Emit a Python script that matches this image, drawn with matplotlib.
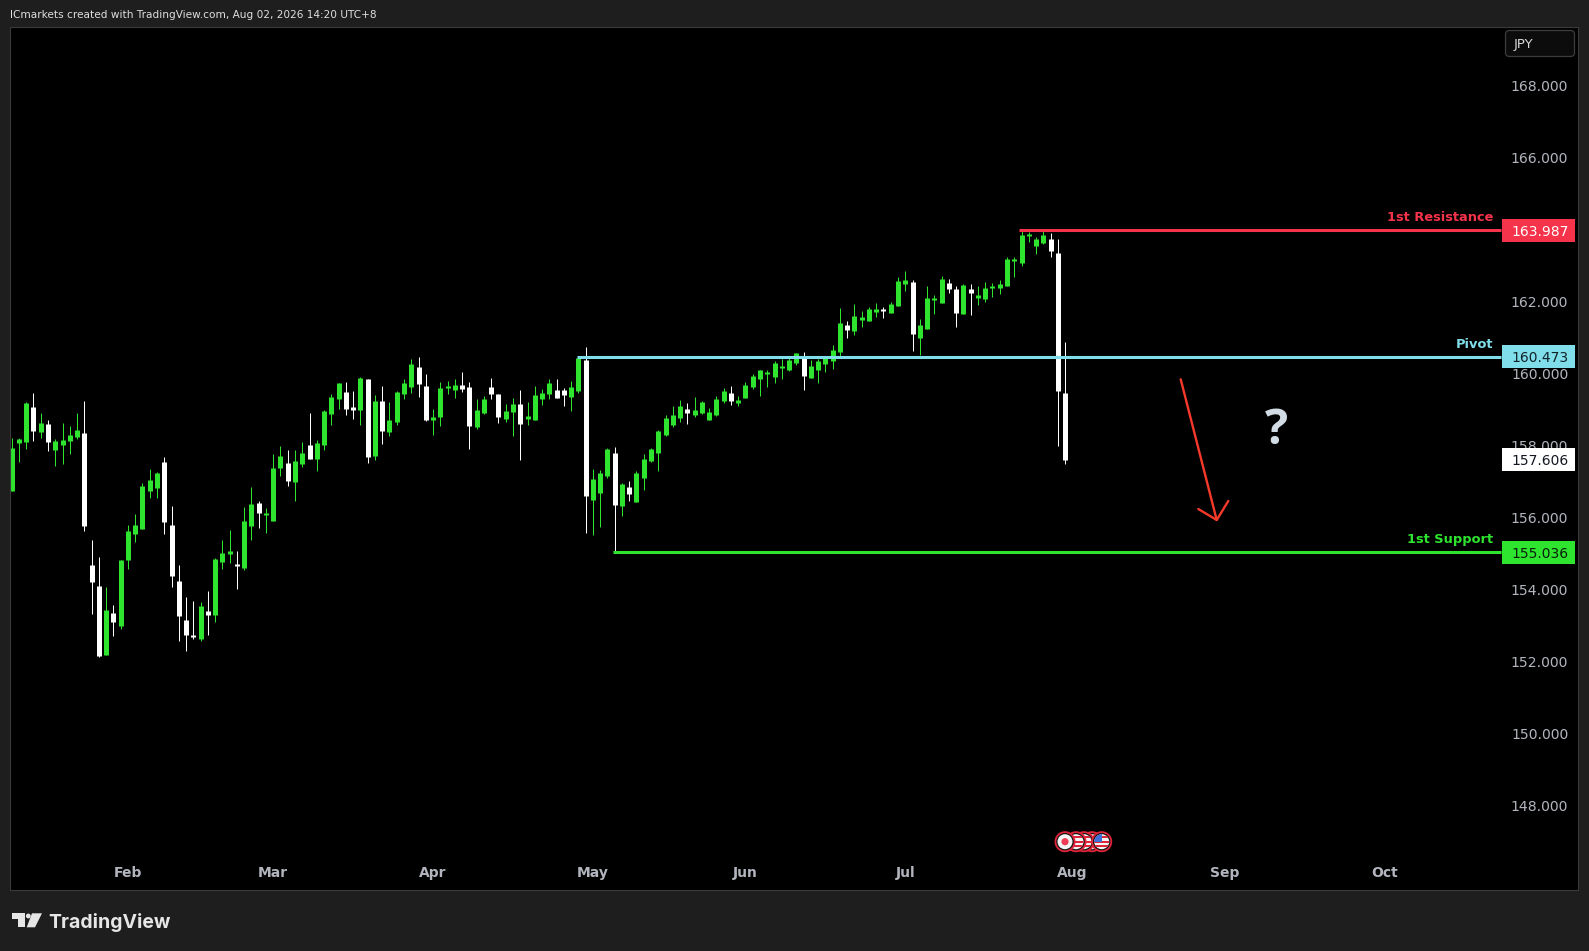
import numpy as np
import matplotlib
matplotlib.use("Agg")
import matplotlib.pyplot as plt
from matplotlib.patches import Circle, Polygon, Rectangle, FancyBboxPatch

# Daily candles
opens = [156.74,158.08,158.10,159.08,158.38,158.60,157.88,158.02,158.13,158.24,
         158.35,154.68,154.10,152.18,153.35,152.99,154.82,155.54,155.68,156.74,
         156.82,157.55,155.80,154.24,153.15,152.74,152.62,153.40,153.29,154.77,
         154.99,154.71,154.60,155.77,156.41,156.07,155.91,157.38,157.52,156.99,
         157.49,158.02,157.63,158.02,158.88,159.30,159.49,159.08,158.99,159.86,
         157.71,159.24,158.38,158.66,159.44,159.63,160.19,159.66,158.72,158.80,
         159.61,159.55,159.69,159.63,158.52,158.91,159.63,159.44,158.74,158.94,
         159.16,158.74,158.72,159.30,159.44,159.55,159.55,159.35,159.52,160.38,
         156.49,156.69,157.16,157.80,156.32,156.85,156.43,157.10,157.57,157.80,
         158.30,158.58,158.77,159.02,158.85,158.91,158.72,158.85,159.24,159.47,
         159.19,159.33,159.63,159.86,159.99,159.91,160.16,160.11,160.30,160.50,
         159.88,160.11,160.27,160.36,160.60,161.35,161.18,161.49,161.46,161.71,
         161.77,161.69,161.88,162.49,162.55,160.99,161.24,162.05,161.96,162.52,
         162.35,161.66,162.35,162.10,162.07,162.38,162.38,162.44,163.13,163.08,
         163.83,163.55,163.63,163.74,163.35,159.46]
highs = [158.21,158.21,159.22,159.47,158.91,158.72,158.19,158.63,158.55,158.91,
         159.24,155.38,154.91,154.07,153.57,154.82,155.80,156.10,156.96,157.35,
         157.27,157.69,156.32,154.68,153.79,153.68,153.65,153.96,154.88,155.38,
         155.66,155.07,156.30,156.85,156.46,156.27,157.77,157.99,157.88,157.88,
         158.10,158.91,158.16,158.99,159.44,159.74,159.77,159.52,159.91,159.86,
         159.41,159.66,159.22,159.52,159.86,160.41,160.47,159.99,159.02,159.77,
         159.80,159.86,160.05,159.77,159.30,159.38,159.88,159.44,159.16,159.33,
         159.55,159.22,159.66,159.58,159.86,159.86,159.61,159.80,160.50,160.75,
         157.35,157.32,157.94,157.96,156.96,157.02,157.30,157.77,157.94,158.44,
         158.85,159.10,159.27,159.19,159.35,159.24,159.05,159.38,159.61,159.66,
         159.38,159.77,159.99,160.11,160.11,160.36,160.41,160.47,160.58,160.61,
         160.38,160.41,160.50,160.80,161.83,161.46,161.94,161.74,161.85,161.96,
         161.85,161.99,162.69,162.85,162.60,161.52,162.44,162.19,162.71,162.63,
         162.44,162.49,162.49,162.44,162.55,162.52,162.60,163.24,163.24,163.99,
         163.94,163.80,163.97,163.91,163.74,160.88]
lows = [156.74,157.55,157.91,158.13,158.21,157.85,157.44,157.49,157.77,158.19,
        155.63,153.32,152.12,152.18,152.71,152.90,154.57,155.32,155.68,156.55,
        156.55,155.54,154.07,152.57,152.29,152.62,152.57,152.74,153.10,154.57,
        154.74,154.02,154.54,155.38,155.71,155.57,155.91,157.16,156.88,156.46,
        157.41,157.63,157.30,157.88,158.58,159.02,158.85,158.74,158.58,157.52,
        157.60,158.05,158.27,158.58,159.30,159.47,159.35,158.69,158.30,158.55,
        159.44,159.33,159.49,157.91,158.46,158.88,159.30,158.63,158.66,158.27,
        157.60,158.58,158.72,159.13,159.30,159.33,159.10,158.97,159.47,155.57,
        155.52,155.74,157.10,155.04,156.05,156.46,156.43,156.77,157.55,157.30,
        158.27,158.52,158.66,158.60,158.80,158.88,158.72,158.83,159.19,159.13,
        159.10,159.33,159.58,159.38,159.63,159.74,159.86,160.08,160.24,159.55,
        159.88,159.74,160.05,160.13,160.49,160.99,161.07,161.30,161.46,161.57,
        161.55,161.69,161.88,162.30,160.63,160.52,161.24,161.66,161.96,162.24,
        161.30,161.66,161.63,161.91,161.99,162.13,162.21,162.44,162.69,162.99,
        163.66,163.33,163.60,163.24,157.99,157.49]
closes = [157.94,158.19,159.19,158.41,158.63,158.10,158.13,158.16,158.30,158.44,
          155.77,154.21,152.15,153.43,153.10,154.82,155.63,155.80,156.88,157.05,
          157.24,155.88,154.38,153.26,152.74,152.68,153.54,153.29,154.85,155.02,
          155.07,154.65,155.91,156.38,156.13,156.10,157.38,157.71,157.02,157.57,
          157.80,157.63,158.08,158.97,159.35,159.74,159.02,158.99,159.88,157.69,
          159.24,158.41,158.72,159.49,159.74,160.27,159.72,158.72,158.80,159.61,
          159.63,159.69,159.58,158.55,158.99,159.30,159.44,158.80,158.97,159.16,
          158.60,158.83,159.41,159.47,159.74,159.33,159.41,159.63,160.44,156.60,
          157.07,157.24,157.91,156.35,156.94,156.66,157.24,157.63,157.91,158.41,
          158.77,158.85,159.10,158.91,158.99,159.22,158.94,159.30,159.52,159.24,
          159.27,159.69,159.94,160.11,160.02,160.30,160.19,160.38,160.58,159.94,
          160.22,160.36,160.46,160.66,161.41,161.21,161.60,161.57,161.80,161.80,
          161.74,161.94,162.58,162.60,161.10,161.35,162.10,162.10,162.63,162.35,
          161.69,162.46,162.24,162.19,162.38,162.41,162.49,163.19,163.16,163.85,
          163.85,163.74,163.85,163.41,159.52,157.606]

y_ticks = [148, 150, 152, 154, 156, 158, 160, 162, 166, 168]
month_names = ["Feb", "Mar", "Apr", "May", "Jun", "Jul", "Aug", "Sep", "Oct"]
month_idx = [16, 36, 58, 80, 101, 123, 146, 167, 189]

resistance = 163.987
pivot = 160.473
support = 155.036
last_price = 157.606

BG = "#1e1e1e"
GREEN = "#2ee42e"
WHITE = "#ffffff"
RED = "#f5334a"
CYAN = "#80deea"
GREY = "#b2b5be"

W, H = 1589, 951
fig = plt.figure(figsize=(W / 100, H / 100), dpi=100, facecolor=BG)

# black panel, pixel box 10..1578 x 27..890
ax = fig.add_axes([10 / W, 1 - 890 / H, 1568 / W, 863 / H], facecolor="black")
ax.set_xlim(-0.234, 215.6)
ax.set_ylim(145.65, 169.64)
for s in ax.spines.values():
    s.set_color("#3a3a3a")
    s.set_linewidth(0.8)

x = np.arange(len(opens))
o = np.array(opens)
h = np.array(highs)
l = np.array(lows)
c = np.array(closes)
colors = [WHITE if cc < oo else GREEN for oo, cc in zip(o, c)]

# candles, wick 1 px and body 5 px wide so both snap to the same centre
body_low = np.minimum(o, c)
body_high = np.maximum(np.maximum(o, c), body_low + 0.05)
ax.vlines(x, l, h, colors=colors, linewidth=0.72, zorder=2)
ax.vlines(x, body_low, body_high, colors=colors, linewidth=3.6, capstyle="butt", zorder=2.2)

# axis labels inside the panel
ax.yaxis.tick_right()
ax.set_yticks(y_ticks)
ax.set_yticklabels([f"{v:.3f}" for v in y_ticks], ha="right", color=GREY, fontsize=10.1)
ax.tick_params(axis="y", length=0, pad=-7)
ax.set_xticks(month_idx)
ax.set_xticklabels(month_names, color=GREY, fontsize=10, fontweight="bold")
ax.tick_params(axis="x", length=0, pad=-17)

# levels and price tags
axis_tr = ax.get_yaxis_transform()
line_end = 205.0
tag_left = (1502 - 10) / 1568
tag_w = 73 / 1568
tag_h = 23 / 35.97
text_right = (1569 - 10) / 1568
levels = [
    (resistance, 138.7, RED, WHITE, "1st Resistance"),
    (pivot, 77.8, CYAN, "#10222a", "Pivot"),
    (support, 82.7, GREEN, "#0b1f0b", "1st Support"),
]
for price, start, col, txt_col, name in levels:
    ax.hlines(price, start, line_end, color=col, linewidth=2.2, zorder=3)
    ax.annotate(name, xy=(line_end, price), xytext=(-5.5, 4.5), textcoords="offset points",
                ha="right", va="bottom", color=col, fontsize=9.4, fontweight="bold")
    ax.add_patch(Rectangle((tag_left, price - tag_h / 2), tag_w, tag_h, transform=axis_tr,
                           facecolor=col, edgecolor="none", zorder=5))
    ax.text(text_right, price, f"{price:.3f}", transform=axis_tr, ha="right", va="center_baseline",
            color=txt_col, fontsize=10, zorder=6)

ax.add_patch(Rectangle((tag_left, last_price - tag_h / 2), tag_w, tag_h, transform=axis_tr,
                       facecolor=WHITE, edgecolor="none", zorder=5))
ax.text(text_right, last_price, f"{last_price:.3f}", transform=axis_tr, ha="right",
        va="center_baseline", color="#131722", fontsize=10, zorder=6)

# everything else is drawn in pixel coordinates on an overlay
ov = fig.add_axes([0, 0, 1, 1], facecolor="none")
ov.set_xlim(0, W)
ov.set_ylim(H, 0)
ov.axis("off")

ov.text(10, 15, "ICmarkets created with TradingView.com, Aug 02, 2026 14:20 UTC+8",
        color="#dedede", fontsize=7.6, va="center", ha="left")

# currency button
ov.add_patch(FancyBboxPatch((1507, 32), 66, 23, boxstyle="round,pad=1.5,rounding_size=4",
                            facecolor="#0c0c0c", edgecolor="#3c3c3c", linewidth=0.9))
ov.text(1514, 44.5, "JPY", color="#d8d8d8", fontsize=9.5, va="center", ha="left")

# drawn arrow and question mark
ARROW = "#f5392b"
ov.plot([1180.7, 1216.7], [379.3, 520], color=ARROW, linewidth=1.7, solid_capstyle="round")
ov.plot([1198.3, 1216.7, 1228.3], [509, 520, 501], color=ARROW, linewidth=1.7,
        solid_capstyle="round", solid_joinstyle="round")
ov.text(1276, 432, "?", color="#d1dce5", fontsize=35, fontweight="bold", ha="center",
        va="center", family="Open Sans")


def flag_icon(cx, cy, kind):
    r = 10.5
    ov.add_patch(Circle((cx, cy), r, facecolor="#e0243a", edgecolor="none"))
    ov.add_patch(Circle((cx, cy), r - 1.8, facecolor="#141414", edgecolor="none"))
    inner = Circle((cx, cy), r - 3, facecolor="#f4f4f4", edgecolor="none")
    ov.add_patch(inner)
    if kind == "jp":
        ov.add_patch(Circle((cx, cy), 3.6, facecolor="#ef3b55", edgecolor="none"))
    else:
        for k in range(3):
            bar = Rectangle((cx - r, cy - 5.5 + k * 4.4), 2 * r, 2.2, facecolor="#e0243a",
                            edgecolor="none")
            ov.add_patch(bar)
            bar.set_clip_path(inner)
        if kind == "us":
            box = Rectangle((cx - r, cy - r), r, r, facecolor="#3d6fd6", edgecolor="none")
            ov.add_patch(box)
            box.set_clip_path(inner)


for cx in [1092, 1084, 1076]:
    flag_icon(cx, 841.7, "stripes")
flag_icon(1065, 841.7, "jp")
flag_icon(1101.7, 841.7, "us")

# TradingView mark and name
LOGO = "#e6e6e6"
ov.add_patch(Polygon([(12, 913.3), (25, 913.3), (25, 927.3), (18.3, 927.3), (18.3, 919.3), (12, 919.3)],
                     closed=True, facecolor=LOGO, edgecolor="none"))
ov.add_patch(Circle((28.3, 916), 2.4, facecolor=LOGO, edgecolor="none"))
ov.add_patch(Polygon([(32, 913.3), (42, 913.3), (35, 927.3), (26.7, 927.3)],
                     closed=True, facecolor=LOGO, edgecolor="none"))
ov.text(48.3, 922, "TradingView", color=LOGO, fontsize=14, fontweight="bold",
        family="Inter", va="center", ha="left")

fig.savefig("out.png", dpi=100, facecolor=BG)
